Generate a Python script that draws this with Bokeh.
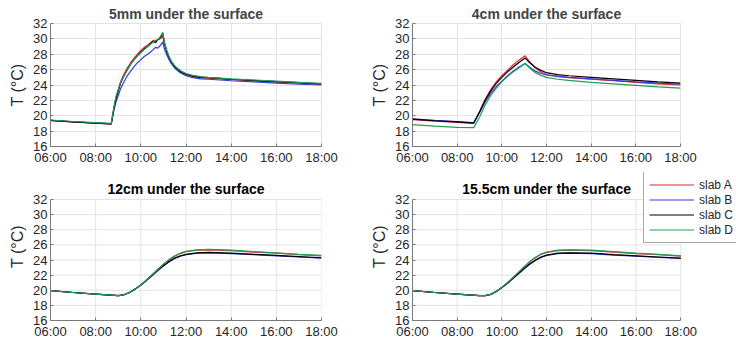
from bokeh.plotting import figure
from bokeh.layouts import column, row
from bokeh.models import FixedTicker, Legend, LegendItem, Range1d, Label
from bokeh.embed import file_html
from bokeh.resources import INLINE

# ---------------- data ----------------
series_names = ["slab A", "slab B", "slab C", "slab D"]
series_colors = ["#e8262b", "#3a3ad6", "#000000", "#1f9e55"]

titles = ["5mm under the surface", "4cm under the surface",
          "12cm under the surface", "15.5cm under the surface"]

x_ticks = [6, 8, 10, 12, 14, 16, 18]
x_tick_labels = ["06:00", "08:00", "10:00", "12:00", "14:00", "16:00", "18:00"]
y_ticks = [16, 18, 20, 22, 24, 26, 28, 30, 32]

# 5 mm
t_5mm = [6.0, 7.0, 8.0, 8.69, 8.8, 8.9, 9.0, 9.1, 9.25, 9.4, 9.55, 9.7, 9.85, 10.0,
         10.15, 10.3, 10.43, 10.55, 10.65, 10.75, 10.85, 10.97, 11.05, 11.15, 11.25,
         11.35, 11.5, 11.65, 11.8, 12.0, 12.3, 12.65, 13.0, 13.5, 14.0, 15.0, 16.0,
         17.0, 18.0]
A_5mm = [19.4, 19.2, 19.05, 18.95, 20.9, 22.4, 23.4, 24.4, 25.4, 26.2, 26.9, 27.5, 28.0,
         28.5, 28.9, 29.2, 29.5, 29.8, 29.7, 29.9, 30.0, 30.4, 29.2, 28.3, 27.5, 26.9,
         26.3, 25.9, 25.6, 25.35, 25.1, 24.95, 24.9, 24.8, 24.7, 24.55, 24.4, 24.25, 24.1]
B_5mm = [19.4, 19.2, 19.05, 18.95, 20.6, 21.8, 22.6, 23.5, 24.4, 25.2, 25.8, 26.4, 26.9,
         27.3, 27.7, 28.0, 28.3, 28.6, 28.9, 28.8, 29.1, 29.6, 28.6, 27.9, 27.3, 26.8,
         26.2, 25.8, 25.5, 25.2, 24.95, 24.8, 24.75, 24.65, 24.55, 24.4, 24.25, 24.1, 24.0]
C_5mm = [19.4, 19.2, 19.05, 18.95, 20.8, 22.2, 23.2, 24.2, 25.2, 26.0, 26.7, 27.3, 27.8,
         28.3, 28.7, 29.0, 29.4, 29.7, 29.5, 29.9, 30.1, 30.75, 29.4, 28.4, 27.6, 27.0,
         26.4, 26.0, 25.7, 25.4, 25.15, 25.0, 24.95, 24.85, 24.75, 24.6, 24.45, 24.3, 24.15]
D_5mm = [19.45, 19.25, 19.1, 19.0, 21.0, 22.5, 23.4, 24.3, 25.2, 26.0, 26.7, 27.3, 27.8,
         28.2, 28.6, 29.0, 29.3, 29.6, 29.8, 29.9, 30.2, 30.85, 29.5, 28.5, 27.7, 27.1,
         26.5, 26.1, 25.8, 25.5, 25.25, 25.1, 25.0, 24.9, 24.8, 24.65, 24.5, 24.35, 24.2]

# 4 cm
t_4cm = [6.0, 7.0, 8.0, 8.74, 9.0, 9.25, 9.5, 9.75, 10.0, 10.25, 10.5, 10.75, 11.04,
         11.25, 11.5, 11.75, 12.0, 12.5, 13.0, 14.0, 15.0, 16.0, 17.0, 18.0]
A_4cm = [19.5, 19.3, 19.15, 19.0, 20.5, 22.1, 23.4, 24.4, 25.2, 25.9, 26.6, 27.2, 27.8,
         27.0, 26.2, 25.7, 25.35, 25.1, 24.95, 24.75, 24.55, 24.35, 24.15, 24.0]
B_4cm = [19.6, 19.4, 19.25, 19.1, 20.4, 21.8, 22.9, 23.8, 24.5, 25.2, 25.8, 26.3, 26.8,
         26.3, 25.8, 25.5, 25.3, 25.15, 25.0, 24.8, 24.6, 24.4, 24.25, 24.1]
C_4cm = [19.55, 19.35, 19.2, 19.05, 20.5, 22.0, 23.2, 24.2, 25.0, 25.7, 26.3, 26.9, 27.5,
         26.9, 26.3, 25.9, 25.6, 25.35, 25.2, 25.0, 24.8, 24.6, 24.4, 24.25]
D_4cm = [18.85, 18.65, 18.5, 18.45, 19.8, 21.4, 22.6, 23.6, 24.4, 25.1, 25.7, 26.2, 26.8,
         26.2, 25.6, 25.25, 25.0, 24.75, 24.6, 24.35, 24.15, 23.95, 23.75, 23.6]

# 12 cm
t_12cm = [6.0, 7.0, 8.0, 8.5, 9.0, 9.25, 9.5, 9.75, 10.0, 10.25, 10.5, 10.75, 11.0,
          11.25, 11.5, 11.75, 12.0, 12.5, 13.0, 14.0, 15.0, 16.0, 17.0, 18.0]
A_12cm = [19.95, 19.7, 19.5, 19.4, 19.3, 19.4, 19.7, 20.15, 20.7, 21.35, 22.05, 22.75,
          23.45, 24.0, 24.5, 24.85, 25.1, 25.3, 25.35, 25.25, 25.05, 24.9, 24.7, 24.55]
B_12cm = [19.95, 19.7, 19.5, 19.4, 19.3, 19.4, 19.7, 20.15, 20.7, 21.3, 21.95, 22.6,
          23.2, 23.75, 24.2, 24.5, 24.7, 24.9, 24.95, 24.85, 24.7, 24.55, 24.4, 24.25]
C_12cm = [19.95, 19.7, 19.5, 19.4, 19.3, 19.4, 19.7, 20.15, 20.7, 21.3, 21.95, 22.65,
          23.25, 23.8, 24.25, 24.55, 24.75, 24.95, 25.0, 24.9, 24.75, 24.6, 24.45, 24.3]
D_12cm = [19.95, 19.7, 19.5, 19.4, 19.3, 19.4, 19.7, 20.15, 20.7, 21.35, 22.05, 22.75,
          23.45, 24.05, 24.55, 24.9, 25.15, 25.35, 25.4, 25.3, 25.1, 24.95, 24.75, 24.6]

# 15.5 cm
t_155cm = [6.0, 7.0, 8.0, 8.5, 9.0, 9.25, 9.5, 9.75, 10.0, 10.25, 10.5, 10.75, 11.0,
           11.25, 11.5, 11.75, 12.0, 12.5, 13.0, 14.0, 15.0, 16.0, 17.0, 18.0]
A_155cm = [19.95, 19.7, 19.5, 19.4, 19.3, 19.3, 19.45, 19.85, 20.4, 21.0, 21.7, 22.4,
           23.1, 23.8, 24.3, 24.75, 25.0, 25.25, 25.3, 25.25, 25.05, 24.85, 24.7, 24.5]
B_155cm = [19.95, 19.7, 19.5, 19.4, 19.3, 19.3, 19.45, 19.85, 20.35, 20.9, 21.55, 22.2,
           22.85, 23.45, 23.95, 24.35, 24.6, 24.85, 24.9, 24.85, 24.65, 24.5, 24.35, 24.2]
C_155cm = [19.95, 19.7, 19.5, 19.4, 19.3, 19.3, 19.45, 19.85, 20.35, 20.95, 21.6, 22.25,
           22.9, 23.5, 24.0, 24.4, 24.65, 24.9, 24.95, 24.9, 24.7, 24.55, 24.4, 24.25]
D_155cm = [19.95, 19.7, 19.5, 19.4, 19.3, 19.3, 19.45, 19.85, 20.4, 21.0, 21.7, 22.4,
           23.1, 23.8, 24.35, 24.8, 25.05, 25.3, 25.35, 25.3, 25.1, 24.9, 24.75, 24.55]

panels = [
    (t_5mm, [A_5mm, B_5mm, C_5mm, D_5mm]),
    (t_4cm, [A_4cm, B_4cm, C_4cm, D_4cm]),
    (t_12cm, [A_12cm, B_12cm, C_12cm, D_12cm]),
    (t_155cm, [A_155cm, B_155cm, C_155cm, D_155cm]),
]

FONT = "Liberation Sans"
GRID = "#e3e3e3"
AXIS = "#7a7a7a"
TEXT = "#262626"

X0, X1 = x_ticks[0], x_ticks[-1]
Y0, Y1 = y_ticks[0], y_ticks[-1]


def style_axes(p, bounded=False):
    p.xaxis.ticker = FixedTicker(ticks=x_ticks)
    p.xaxis.major_label_overrides = {t: l for t, l in zip(x_ticks, x_tick_labels)}
    p.yaxis.ticker = FixedTicker(ticks=y_ticks)
    p.yaxis.axis_label = "T (°C)"
    if bounded:
        p.xaxis.bounds = (X0, X1)
        p.yaxis.bounds = (Y0, Y1)
    for ax in (p.xaxis, p.yaxis):
        ax.axis_line_color = AXIS
        ax.major_tick_line_color = AXIS
        ax.major_tick_in = 3
        ax.major_tick_out = 0
        ax.minor_tick_line_color = None
        ax.major_label_text_font = FONT
        ax.major_label_text_font_size = "13px"
        ax.major_label_text_color = TEXT
        ax.major_label_standoff = 3
    p.yaxis.axis_label_text_font = FONT
    p.yaxis.axis_label_text_font_size = "16px"
    p.yaxis.axis_label_text_font_style = "normal"
    p.yaxis.axis_label_text_color = TEXT
    p.yaxis.axis_label_standoff = 4


def add_lines(p, i):
    t, ys = panels[i]
    return [p.line(t, y, line_color=c, line_width=1.2) for y, c in zip(ys, series_colors)]


def make_top_panel(i):
    left_col = (i % 2 == 0)
    p = figure(width=368, height=172,
               x_range=Range1d(X0, X1), y_range=Range1d(Y0, Y1),
               output_backend="svg", toolbar_location=None,
               min_border_left=50 if left_col else 42,
               min_border_right=47 if left_col else 56,
               min_border_top=23, min_border_bottom=26)
    p.title.text = titles[i]
    p.title.text_font = FONT
    p.title.text_font_size = "14px"
    p.title.text_font_style = "bold"
    p.title.align = "center"
    p.title.standoff = 3
    p.outline_line_color = GRID
    p.background_fill_color = "white"
    p.border_fill_color = "white"
    style_axes(p)
    p.grid.grid_line_color = GRID
    p.grid.grid_line_width = 1
    add_lines(p, i)
    return p


def make_bottom_panel(i, left_border, right_border, ext_right):
    # frame reaches the top edge (and, for the last panel, the right edge) so that the
    # title and the legend box can sit in what would otherwise be the margins
    plot_w = 368 - left_border - right_border
    frame_w = plot_w + ext_right
    plot_h, ext_top = 121, 27
    frame_h = plot_h + ext_top
    x_end = X0 + (X1 - X0) * frame_w / plot_w
    y_end = Y0 + (Y1 - Y0) * frame_h / plot_h
    p = figure(width=368, height=170,
               x_range=Range1d(X0, x_end), y_range=Range1d(Y0, y_end),
               output_backend="svg", toolbar_location=None,
               min_border_left=left_border, min_border_right=right_border - ext_right,
               min_border_top=0, min_border_bottom=22)
    p.outline_line_color = None
    p.background_fill_color = "white"
    p.border_fill_color = "white"
    p.grid.visible = False
    style_axes(p, bounded=True)
    # grid lines at the ticks (including the box edges at 18:00 and 32)
    p.segment(x0=x_ticks[1:], y0=[Y0] * (len(x_ticks) - 1),
              x1=x_ticks[1:], y1=[Y1] * (len(x_ticks) - 1),
              line_color=GRID, line_width=1)
    p.segment(x0=[X0] * (len(y_ticks) - 1), y0=y_ticks[1:],
              x1=[X1] * (len(y_ticks) - 1), y1=y_ticks[1:],
              line_color=GRID, line_width=1)
    rs = add_lines(p, i)
    title = Label(x=(X0 + X1) / 2, y=Y1 + (Y1 - Y0) * 11 / plot_h, text=titles[i],
                  text_font=FONT, text_font_size="14px", text_font_style="bold",
                  text_color="black", text_align="center", text_baseline="middle")
    p.add_layout(title)
    return p, rs


p1 = make_top_panel(0)
p2 = make_top_panel(1)
p3, _ = make_bottom_panel(2, 50, 47, 0)
p4, rs = make_bottom_panel(3, 42, 56, 56)

legend = Legend(items=[LegendItem(label=n, renderers=[r]) for n, r in zip(series_names, rs)],
                location=(231, 77))
legend.label_text_font = FONT
legend.label_text_font_size = "12px"
legend.label_text_color = TEXT
legend.glyph_width = 45
legend.glyph_height = 15
legend.label_height = 15
legend.spacing = 0
legend.padding = 5
legend.margin = 0
legend.label_standoff = 5
legend.border_line_color = "#555555"
legend.border_line_width = 1
legend.background_fill_color = "white"
legend.background_fill_alpha = 1.0
p4.add_layout(legend, "center")

layout = column(row(p1, p2), row(p3, p4))

open("out.html", "w").write(file_html(layout, INLINE))
